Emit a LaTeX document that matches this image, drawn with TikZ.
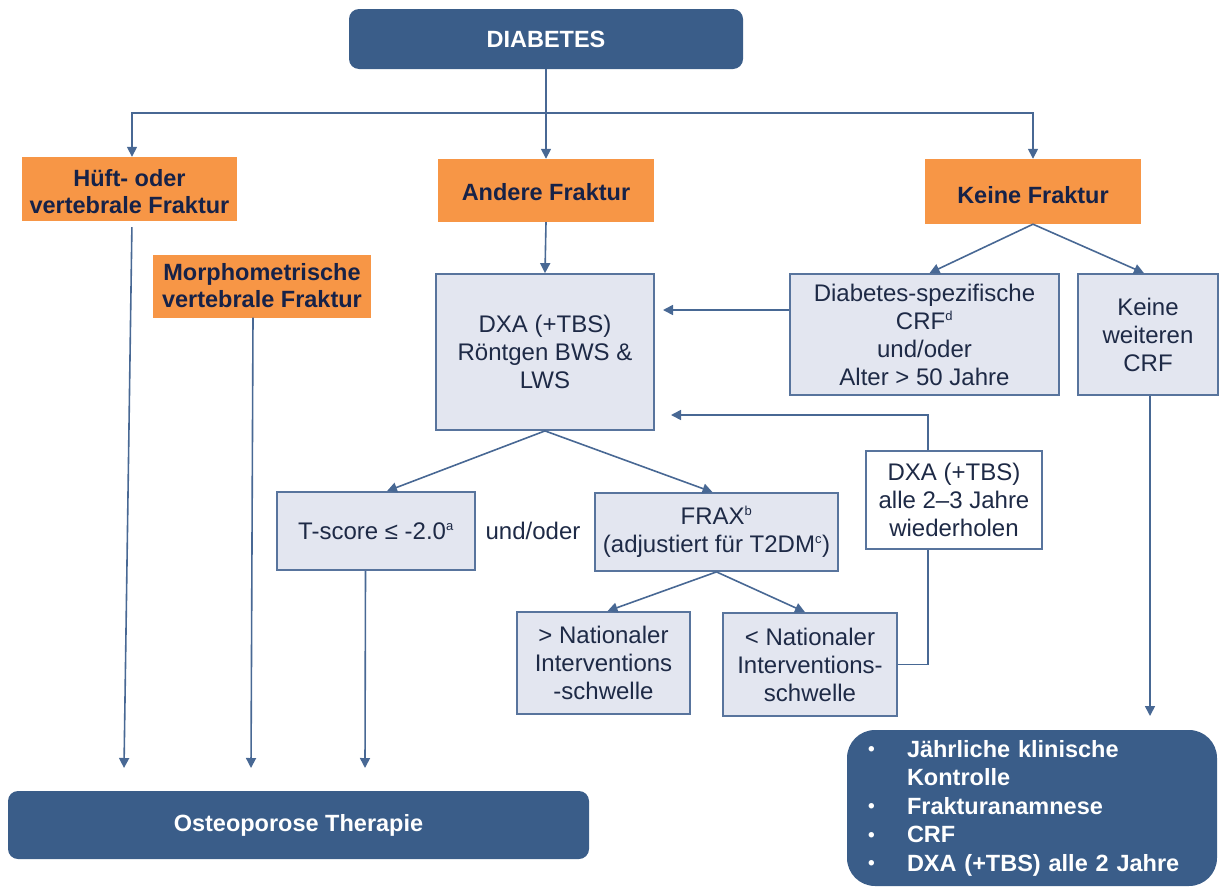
\documentclass[tikz,border=0pt]{standalone}
\usepackage{fontspec}
\setmainfont{Liberation Sans}
\usetikzlibrary{arrows.meta}
\definecolor{navy}{RGB}{58,93,137}
\definecolor{orng}{RGB}{247,150,70}
\definecolor{ink}{RGB}{30,42,70}
\definecolor{inkb}{RGB}{22,34,72}
\definecolor{pale}{RGB}{227,230,240}
\definecolor{edge}{RGB}{88,116,157}
\definecolor{wirecol}{RGB}{72,104,148}
\newcommand{\bul}{\makebox[39pt][l]{\raisebox{1.5pt}{\fontsize{19}{19}\selectfont •}}}
\newcommand{\sups}[1]{\textsuperscript{\fontsize{13}{13}\selectfont #1}}
% lower a label inside its box without changing the box
\newcommand{\droplabel}[2]{\raisebox{-#1}[\height][\depth]{#2}}
\begin{document}
\begin{tikzpicture}[x=1pt,y=-1pt,
  base/.style={inner sep=0pt, align=center},
  darkbox/.style={base, fill=navy, rounded corners=10pt, text=white,
    font=\fontsize{23.5}{28.5}\selectfont\bfseries},
  hotbox/.style={base, fill=orng, text=inkb,
    font=\fontsize{23.5}{27}\selectfont\bfseries},
  softbox/.style={base, fill=pale, draw=edge, line width=1.8pt, text=ink,
    font=\fontsize{24}{28}\selectfont},
  link/.style={draw=wirecol, line width=1.6pt},
  arr/.style={link, -{Triangle[length=10pt,width=10pt]}},
]
\useasboundingbox (0,0) rectangle (1219,889);

% --- boxes ---
\node[darkbox, minimum width=394pt, minimum height=60pt] (diab) at (546,39) {DIABETES};
\node[hotbox, minimum width=215pt, minimum height=64pt] (hip) at (129.5,189)
  {\droplabel{6pt}{\begin{tabular}{@{}c@{}}Hüft- oder\\vertebrale Fraktur\end{tabular}}};
\node[hotbox, minimum width=216pt, minimum height=63pt] (other) at (546,190.5) {\droplabel{2pt}{Andere Fraktur}};
\node[hotbox, minimum width=216pt, minimum height=65pt] (nofx) at (1033,191.5) {\droplabel{4pt}{Keine Fraktur}};
\node[hotbox, minimum width=218pt, minimum height=63pt] (morph) at (262,286) {Morphometrische\\vertebrale Fraktur};

\node[softbox, minimum width=218pt, minimum height=156pt] (dxa) at (545,352) {DXA (+TBS)\\Röntgen BWS \&\\LWS};
\node[softbox, minimum width=269pt, minimum height=121pt] (spec) at (924.5,334.5) {Diabetes-spezifische\\CRF\sups{d}\\und/oder\\Alter > 50 Jahre};
\node[softbox, minimum width=140pt, minimum height=121pt] (norf) at (1148,334.5) {Keine\\weiteren\\CRF};
\node[softbox, fill=white, minimum width=176pt, minimum height=98pt] (rep) at (954,500) {DXA (+TBS)\\alle 2–3 Jahre\\wiederholen};
\node[softbox, minimum width=198pt, minimum height=78pt] (tsc) at (376,531) {T-score ≤ -2.0\sups{a}};
\node[base, text=ink, font=\fontsize{24}{28}\selectfont] (andor) at (533,531) {und/oder};
\node[softbox, minimum width=243pt, minimum height=78pt] (frax) at (716.5,532) {FRAX\sups{b}\\(adjustiert für T2DM\sups{c})};
\node[softbox, minimum width=173pt, minimum height=102pt] (above) at (603.5,663) {> Nationaler\\Interventions\\-schwelle};
\node[softbox, minimum width=174pt, minimum height=103pt] (below) at (810,664.5) {< Nationaler\\Interventions-\\schwelle};

\node[darkbox, minimum width=581pt, minimum height=68pt] (ther) at (298.5,825) {Osteoporose Therapie};
\node[darkbox, rounded corners=28pt, minimum width=370pt, minimum height=156pt,
      text width=328pt, align=left] (ctrl) at (1032,808)
  {\bul Jährliche klinische\\\hspace*{39pt}Kontrolle\\\bul Frakturanamnese\\\bul CRF\\\bul DXA (+TBS) alle 2 Jahre};

% --- connectors ---
\coordinate (split) at (546,113);
\draw[link] (diab.south) -- (split);
\draw[arr] (split) -| ([xshift=2.5pt]hip.north);
\draw[arr] (split) -- (other.north);
\draw[arr] (split) -| (nofx.north);
\draw[arr] (other.south) -- (dxa.north);
\draw[arr] (nofx.south) -- ([xshift=5pt]spec.north);
\draw[arr] (nofx.south) -- ([xshift=-4pt]norf.north);

\coordinate (in1) at (663,310);
\draw[arr] (spec.west |- in1) -- (in1);
\coordinate (in2) at (671,415);
\coordinate (lx) at (928,0);
\draw[link] (below.east) -| (rep.south -| lx);
\draw[arr] (rep.north -| lx) |- (in2);

\draw[arr] (dxa.south) -- ([xshift=11pt]tsc.north);
\draw[arr] (dxa.south) -- ([xshift=-4pt]frax.north);
\draw[arr] (frax.south) -- ([xshift=4pt]above.north);
\draw[arr] (frax.south) -- ([xshift=-5pt]below.north);

\coordinate (t1) at (124,768);
\coordinate (t2) at (251,768);
\coordinate (t3) at (365,768);
\coordinate (t4) at (1150,716);
\draw[arr, shorten <=6pt] ([xshift=2.5pt]hip.south) -- (t1);
\draw[arr] ([xshift=-9pt]morph.south) -- (t2);
\draw[arr] ([xshift=-10.5pt]tsc.south) -- (t3);
\draw[arr] ([xshift=2pt]norf.south) -- (t4);
\end{tikzpicture}
\end{document}
